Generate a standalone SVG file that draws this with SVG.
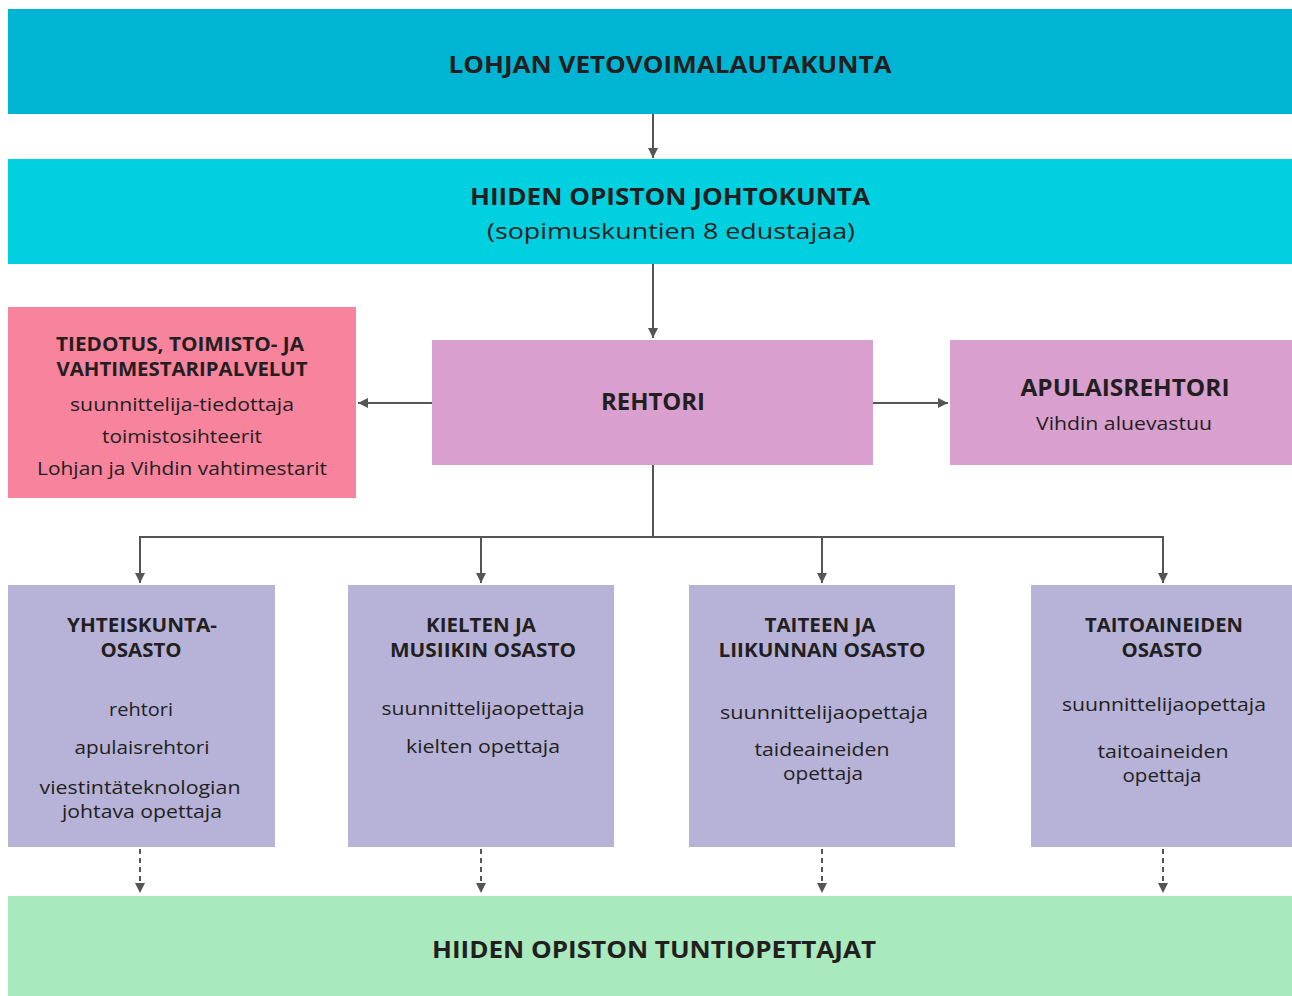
<svg xmlns="http://www.w3.org/2000/svg" width="1292" height="996" viewBox="0 0 1292 996">
<style>
text{font-family:"Open Sans","Liberation Sans",sans-serif;fill:#231f20;text-anchor:middle}
.t{font-size:24px;font-weight:bold}
.h{font-size:19px;font-weight:bold}
.b{font-size:18px}
.s{font-size:22px}
.c{stroke:#555;stroke-width:2;fill:none}
.d{stroke-dasharray:5 4}
</style>
<defs>
<marker id="a" viewBox="0 0 10 10" refX="10" refY="5" markerWidth="5" markerHeight="5" orient="auto"><path d="M0,0L10,5L0,10z" fill="#555"/></marker>
</defs>
<rect width="1292" height="996" fill="#fff"/>
<g id="lautakunta"><rect x="8" y="9" width="1284" height="105" fill="#00b5d3"/>
<text class="t" x="670" y="73" textLength="443" lengthAdjust="spacingAndGlyphs">LOHJAN VETOVOIMALAUTAKUNTA</text></g>
<g id="johtokunta"><rect x="8" y="159" width="1284" height="105" fill="#00d0e0"/>
<text class="t" x="670" y="205" textLength="400" lengthAdjust="spacingAndGlyphs">HIIDEN OPISTON JOHTOKUNTA</text>
<text class="s" x="671" y="239" textLength="368" lengthAdjust="spacingAndGlyphs">(sopimuskuntien 8 edustajaa)</text></g>
<g id="tiedotus"><rect x="8" y="307" width="348" height="191" fill="#f7839d"/>
<text class="h" x="180" y="351" textLength="248" lengthAdjust="spacingAndGlyphs">TIEDOTUS, TOIMISTO- JA</text>
<text class="h" x="182" y="376" textLength="251" lengthAdjust="spacingAndGlyphs">VAHTIMESTARIPALVELUT</text>
<text class="b" x="182" y="411" textLength="224" lengthAdjust="spacingAndGlyphs">suunnittelija-tiedottaja</text>
<text class="b" x="182" y="443" textLength="160" lengthAdjust="spacingAndGlyphs">toimistosihteerit</text>
<text class="b" x="182" y="475" textLength="290" lengthAdjust="spacingAndGlyphs">Lohjan ja Vihdin vahtimestarit</text></g>
<g id="rehtori"><rect x="432" y="340" width="441" height="125" fill="#d99fcf"/>
<text class="t" x="653" y="410" textLength="104" lengthAdjust="spacingAndGlyphs">REHTORI</text></g>
<g id="apulaisrehtori"><rect x="950" y="340" width="342" height="125" fill="#d99fcf"/>
<text class="t" x="1125" y="396" textLength="209" lengthAdjust="spacingAndGlyphs">APULAISREHTORI</text>
<text class="b" x="1124" y="430" textLength="176" lengthAdjust="spacingAndGlyphs">Vihdin aluevastuu</text></g>
<g id="yhteiskunta"><rect x="8" y="585" width="267" height="262" fill="#b7b3d8"/>
<text class="h" x="142" y="632" textLength="150" lengthAdjust="spacingAndGlyphs">YHTEISKUNTA-</text>
<text class="h" x="141" y="657" textLength="81" lengthAdjust="spacingAndGlyphs">OSASTO</text>
<text class="b" x="141" y="716" textLength="64" lengthAdjust="spacingAndGlyphs">rehtori</text>
<text class="b" x="142" y="754" textLength="135" lengthAdjust="spacingAndGlyphs">apulaisrehtori</text>
<text class="b" x="140" y="794" textLength="201" lengthAdjust="spacingAndGlyphs">viestintäteknologian</text>
<text class="b" x="142" y="818" textLength="160" lengthAdjust="spacingAndGlyphs">johtava opettaja</text></g>
<g id="kielten"><rect x="348" y="585" width="266" height="262" fill="#b7b3d8"/>
<text class="h" x="481" y="632" textLength="110" lengthAdjust="spacingAndGlyphs">KIELTEN JA</text>
<text class="h" x="483" y="657" textLength="186" lengthAdjust="spacingAndGlyphs">MUSIIKIN OSASTO</text>
<text class="b" x="483" y="715" textLength="203" lengthAdjust="spacingAndGlyphs">suunnittelijaopettaja</text>
<text class="b" x="483" y="753" textLength="154" lengthAdjust="spacingAndGlyphs">kielten opettaja</text></g>
<g id="taiteen"><rect x="689" y="585" width="266" height="262" fill="#b7b3d8"/>
<text class="h" x="820" y="632" textLength="111" lengthAdjust="spacingAndGlyphs">TAITEEN JA</text>
<text class="h" x="822" y="657" textLength="207" lengthAdjust="spacingAndGlyphs">LIIKUNNAN OSASTO</text>
<text class="b" x="824" y="719" textLength="208" lengthAdjust="spacingAndGlyphs">suunnittelijaopettaja</text>
<text class="b" x="822" y="756" textLength="135" lengthAdjust="spacingAndGlyphs">taideaineiden</text>
<text class="b" x="823" y="780" textLength="80" lengthAdjust="spacingAndGlyphs">opettaja</text></g>
<g id="taitoaineiden"><rect x="1031" y="585" width="261" height="262" fill="#b7b3d8"/>
<text class="h" x="1164" y="632" textLength="158" lengthAdjust="spacingAndGlyphs">TAITOAINEIDEN</text>
<text class="h" x="1162" y="657" textLength="81" lengthAdjust="spacingAndGlyphs">OSASTO</text>
<text class="b" x="1164" y="711" textLength="204" lengthAdjust="spacingAndGlyphs">suunnittelijaopettaja</text>
<text class="b" x="1163" y="758" textLength="131" lengthAdjust="spacingAndGlyphs">taitoaineiden</text>
<text class="b" x="1162" y="782" textLength="79" lengthAdjust="spacingAndGlyphs">opettaja</text></g>
<g id="tuntiopettajat"><rect x="8" y="896" width="1284" height="100" fill="#a8e9bd"/>
<text class="t" x="654" y="958" textLength="444" lengthAdjust="spacingAndGlyphs">HIIDEN OPISTON TUNTIOPETTAJAT</text></g>
<g id="connectors">
<path class="c" d="M653,114V158" marker-end="url(#a)"/>
<path class="c" d="M653,264V338" marker-end="url(#a)"/>
<path class="c" d="M432,403H358" marker-end="url(#a)"/>
<path class="c" d="M873,403H948" marker-end="url(#a)"/>
<path class="c" d="M653,465V537"/>
<path class="c" d="M140,583V537H1163V583" />
<path class="c" d="M140,540V583" marker-end="url(#a)"/>
<path class="c" d="M481,537V583" marker-end="url(#a)"/>
<path class="c" d="M822,537V583" marker-end="url(#a)"/>
<path class="c" d="M1163,540V583" marker-end="url(#a)"/>
<path class="c d" d="M140,849V893" marker-end="url(#a)"/>
<path class="c d" d="M481,849V893" marker-end="url(#a)"/>
<path class="c d" d="M822,849V893" marker-end="url(#a)"/>
<path class="c d" d="M1163,849V893" marker-end="url(#a)"/>
</g>
</svg>
